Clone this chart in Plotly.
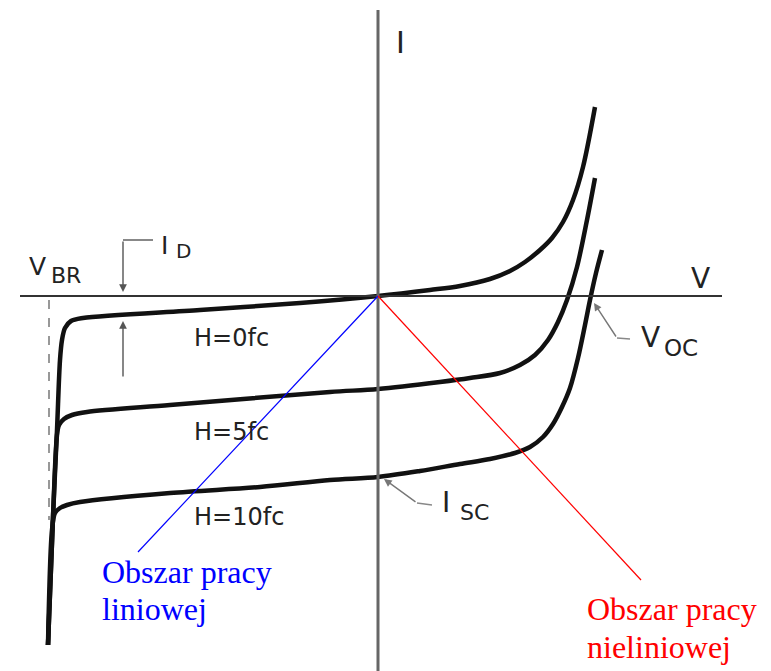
import plotly.graph_objects as go

# I-V characteristics of a photodiode for three illumination levels (arbitrary units)
v_h0 = [-330, -325, -321, -318, -316, -313, -307, -295, -178, -78, 0, 52, 82, 112, 132, 147, 162, 174, 185, 195, 205, 217]
i_h0 = [-349, -221, -134, -64, -44, -32, -25, -22, -14, -7, 0, 6, 10, 17, 25, 34, 46, 58, 74, 96, 129, 189]

v_h5 = [-330, -325, -321, -319, -314, -306, -291, -208, -48, 0, 62, 92, 122, 142, 157, 170, 180, 189, 199, 209, 217]
i_h5 = [-349, -221, -139, -129, -123, -119, -116, -109, -96, -93, -86, -82, -77, -69, -59, -44, -26, -4, 29, 76, 118]

v_h10 = [-330, -326, -323, -318, -311, -298, -208, -118, -48, 0, 42, 82, 112, 137, 152, 165, 175, 184, 192, 200, 207, 212, 218, 224]
i_h10 = [-349, -234, -217, -212, -209, -206, -197, -191, -184, -181, -175, -168, -163, -157, -151, -141, -128, -111, -92, -62, -29, -4, 23, 46]

curve_labels = ["H=0fc", "H=5fc", "H=10fc"]

X_RANGE = [-378, 393]
Y_RANGE = [-375, 296]

fig = go.Figure()

INK = "#111111"
GUIDE = "#555555"

# coordinate axes
fig.add_shape(type="line", x0=-358, y0=0, x1=344, y1=0, line=dict(color="#333333", width=2))
fig.add_shape(type="line", x0=0, y0=286, x1=0, y1=-375, line=dict(color="#666666", width=3))

# breakdown voltage guide
fig.add_shape(type="line", x0=-329, y0=-4, x1=-329, y1=-224,
              line=dict(color="#777777", width=1.5, dash="dash"))

# operating-region guide lines
fig.add_shape(type="line", x0=0, y0=0, x1=-240, y1=-256, line=dict(color="#0000ff", width=1.2))
fig.add_shape(type="line", x0=0, y0=0, x1=263, y1=-284, line=dict(color="#ff0000", width=1.2))

for v, i, name in [(v_h0, i_h0, curve_labels[0]), (v_h5, i_h5, curve_labels[1]), (v_h10, i_h10, curve_labels[2])]:
    fig.add_trace(go.Scatter(x=v, y=i, mode="lines", name=name,
                             line=dict(color=INK, width=4.5, shape="spline", smoothing=0.9),
                             hoverinfo="skip"))

# leader lines for the I_D, V_OC and I_SC callouts
fig.add_trace(go.Scatter(x=[-225, -255], y=[56, 56], mode="lines", line=dict(color=GUIDE, width=1.4), hoverinfo="skip"))
fig.add_trace(go.Scatter(x=[252, 239], y=[-43, -42], mode="lines", line=dict(color="#888888", width=1.4), hoverinfo="skip"))
fig.add_trace(go.Scatter(x=[54, 39], y=[-209, -207], mode="lines", line=dict(color="#888888", width=1.4), hoverinfo="skip"))


def arrow(x, y, ax, ay, color=GUIDE):
    fig.add_annotation(x=x, y=y, ax=ax, ay=ay, xref="x", yref="y", axref="x", ayref="y",
                       text="", showarrow=True, arrowhead=2, arrowsize=1.1, arrowwidth=1.4,
                       arrowcolor=color)


arrow(-255, 4, -255, 56)
arrow(-255, -25, -255, -82)
arrow(216, -7, 239, -42, "#777777")
arrow(6, -183, 39, -207, "#777777")


def label(x, y, text, size, color="#222222", family="DejaVu Sans", xanchor="center"):
    fig.add_annotation(x=x, y=y, xref="x", yref="y", text=text, showarrow=False,
                       xanchor=xanchor, yanchor="middle",
                       font=dict(family=family, size=size, color=color))


# axis names
label(22, 254, "I", 30)
label(322, 18, "V", 28)

# symbols with subscripts
label(-341, 30, "V", 25)
label(-312, 21, "BR", 22)
label(-214, 51, "I", 25)
label(-195, 45, "D", 20)
label(272, -41, "V", 28)
label(303, -52, "OC", 23)
label(68, -206, "I", 28)
label(96, -216, "SC", 22)

# illumination labels
for y, t in zip([-42, -136, -221], curve_labels):
    label(-186, y, t, 24, xanchor="left")

# operating-region notes
label(-278, -276, "Obszar pracy", 32, color="#0000ff", family="Liberation Serif", xanchor="left")
label(-278, -313, "liniowej", 32, color="#0000ff", family="Liberation Serif", xanchor="left")
label(207, -313, "Obszar pracy", 32, color="#ff0000", family="Liberation Serif", xanchor="left")
label(207, -351, "nieliniowej", 32, color="#ff0000", family="Liberation Serif", xanchor="left")

fig.update_layout(
    width=771, height=671,
    margin=dict(l=0, r=0, t=0, b=0),
    paper_bgcolor="white", plot_bgcolor="white",
    showlegend=False,
    xaxis=dict(range=X_RANGE, visible=False, fixedrange=True),
    yaxis=dict(range=Y_RANGE, visible=False, fixedrange=True),
)

fig.write_html("out.html")
